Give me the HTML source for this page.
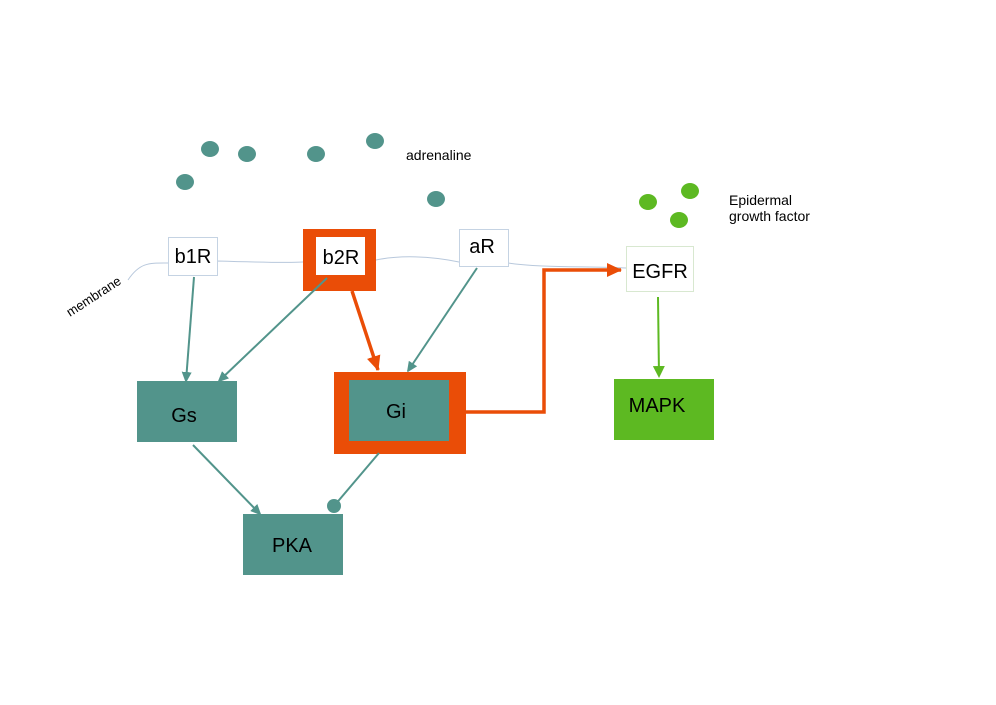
<!DOCTYPE html>
<html><head><style>body{margin:0;background:#fff}svg{display:block}text{font-family:"Liberation Sans",sans-serif}</style></head><body>
<svg width="996" height="705" viewBox="0 0 996 705" xmlns="http://www.w3.org/2000/svg">
<defs>
<marker id="at" markerWidth="10" markerHeight="10" refX="9" refY="5" orient="auto" markerUnits="userSpaceOnUse"><path d="M0,0 L11,5 L0,10 z" fill="#52948b"/></marker>
<marker id="ao" markerWidth="16" markerHeight="14" refX="14" refY="7" orient="auto" markerUnits="userSpaceOnUse"><path d="M0,0 L15,7 L0,14 z" fill="#ea4d07"/></marker>
<marker id="ag" markerWidth="12" markerHeight="12" refX="10" refY="6" orient="auto" markerUnits="userSpaceOnUse"><path d="M0,0 L12,6 L0,12 z" fill="#5db922"/></marker>
</defs>
<path d="M128,280 C140,262 150,263 168,263 L217,261 C250,262 290,263 303,262 L376,260 C400,255 430,256 459,262 L508,263 C540,268 590,266 626,268" fill="none" stroke="#b8c8dc" stroke-width="1"/>
<g fill="#52948b">
<ellipse cx="210" cy="149" rx="9" ry="8"/><ellipse cx="247" cy="154" rx="9" ry="8"/><ellipse cx="316" cy="154" rx="9" ry="8"/><ellipse cx="375" cy="141" rx="9" ry="8"/><ellipse cx="185" cy="182" rx="9" ry="8"/><ellipse cx="436" cy="199" rx="9" ry="8"/>
</g>
<g fill="#5db922"><ellipse cx="648" cy="202" rx="9" ry="8"/><ellipse cx="690" cy="191" rx="9" ry="8"/><ellipse cx="679" cy="220" rx="9" ry="8"/></g>
<text x="406" y="160" font-size="14">adrenaline</text>
<text x="729" y="205" font-size="14">Epidermal</text>
<text x="729" y="221" font-size="14">growth factor</text>
<text x="0" y="0" font-size="13" transform="translate(70,317) rotate(-33)">membrane</text>
<!-- boxes -->
<rect x="168.5" y="237.5" width="49" height="38" fill="#fff" stroke="#c5d3e3"/>
<text x="193" y="263" font-size="20" text-anchor="middle">b1R</text>
<rect x="303" y="229" width="73" height="62" fill="#ea4d07"/>
<rect x="316" y="237" width="49" height="38" fill="#fff"/>
<text x="341" y="264" font-size="20" text-anchor="middle">b2R</text>
<rect x="459.5" y="229.5" width="49" height="37" fill="#fff" stroke="#c5d3e3"/>
<text x="482" y="253" font-size="20" text-anchor="middle">aR</text>
<rect x="626.5" y="246.5" width="67" height="45" fill="#fff" stroke="#d8e8d0"/>
<text x="660" y="278" font-size="20" text-anchor="middle">EGFR</text>
<rect x="137" y="381" width="100" height="61" fill="#52948b"/>
<text x="184" y="422" font-size="20" text-anchor="middle">Gs</text>
<rect x="334" y="372" width="132" height="82" fill="#ea4d07"/>
<rect x="349" y="380" width="100" height="61" fill="#52948b"/>
<text x="396" y="418" font-size="20" text-anchor="middle">Gi</text>
<rect x="243" y="514" width="100" height="61" fill="#52948b"/>
<text x="292" y="552" font-size="20" text-anchor="middle">PKA</text>
<rect x="614" y="379" width="100" height="61" fill="#5db922"/>
<text x="657" y="412" font-size="20" text-anchor="middle">MAPK</text>
<!-- connectors -->
<g stroke="#52948b" stroke-width="2" fill="none">
<line x1="194" y1="277" x2="186" y2="381" marker-end="url(#at)"/>
<line x1="327" y1="278" x2="219" y2="381" marker-end="url(#at)"/>
<line x1="477" y1="268" x2="408" y2="371" marker-end="url(#at)"/>
<line x1="193" y1="445" x2="260" y2="514" marker-end="url(#at)"/>
<line x1="379" y1="453" x2="334" y2="506"/>
</g>
<circle cx="334" cy="506" r="7" fill="#52948b"/>
<line x1="352" y1="291" x2="378" y2="370" stroke="#ea4d07" stroke-width="3.5" marker-end="url(#ao)"/>
<polyline points="466,412 544,412 544,270 621,270" fill="none" stroke="#ea4d07" stroke-width="3.5" marker-end="url(#ao)"/>
<line x1="658" y1="297" x2="659" y2="376" stroke="#5db922" stroke-width="2" marker-end="url(#ag)"/>
</svg>
</body></html>
